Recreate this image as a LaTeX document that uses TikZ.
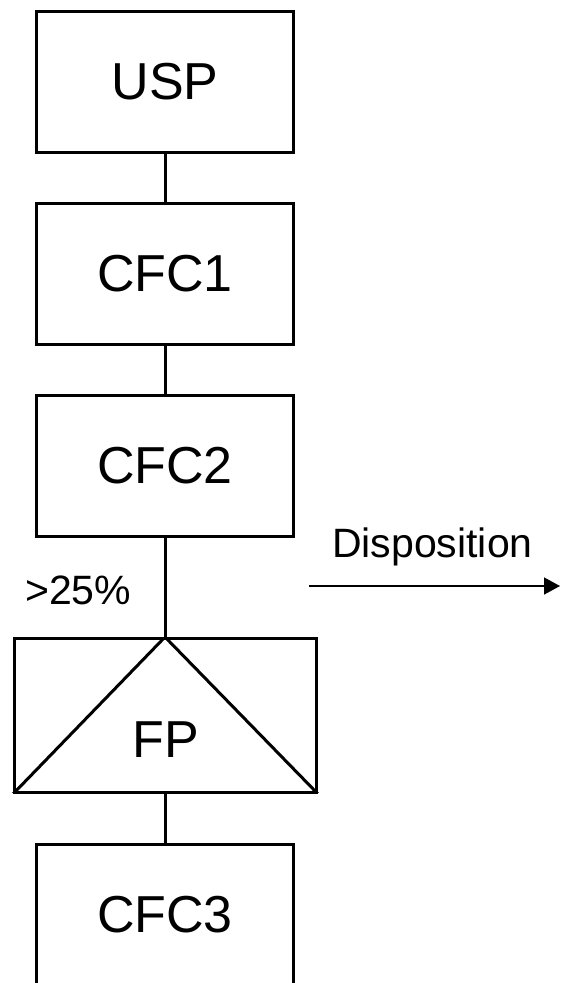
\documentclass[tikz,border=0pt]{standalone}
\usepackage{fontspec}
\setmainfont{Liberation Sans}
\usetikzlibrary{arrows.meta}
\begin{document}
\begin{tikzpicture}[x=1pt,y=-1pt,
  boxnode/.style={draw=black, line width=3pt, rectangle, minimum width=257pt, minimum height=141pt, inner sep=0pt, font=\fontsize{52}{60}\selectfont},
  link/.style={line width=3pt},
  smalllabel/.style={font=\fontsize{41}{48}\selectfont, inner sep=0pt}]
\useasboundingbox (0,0) rectangle (561,983);
\clip (0,0) rectangle (561,983);
\node[boxnode] (usp) at (165,81.5) {USP};
\node[boxnode] (cfc1) at (165,274) {CFC1};
\node[boxnode] (cfc2) at (165,465.5) {CFC2};
\node[boxnode, minimum width=302pt, minimum height=154pt] (fp) at (165.5,715.5) {};
\node[inner sep=0pt, font=\fontsize{52}{60}\selectfont] (fplabel) at (166,740) {FP};
\node[boxnode] (cfc3) at (165,914.5) {CFC3};
\draw[link] (usp.south) -- (cfc1.north);
\draw[link] (cfc1.south) -- (cfc2.north);
\draw[link] (cfc2.south) -- (fp.north -| cfc2.south);
\draw[link] (fp.south -| cfc3.north) -- (cfc3.north);
\begin{scope}
\clip ([shift={(-1.5pt,1.5pt)}]fp.south west) rectangle ([shift={(1.5pt,-1.5pt)}]fp.north east);
\draw[line width=3pt, line join=miter] (fp.south west) -- (fp.north -| cfc2.south) -- (fp.south east);
\end{scope}
\node[smalllabel, anchor=base west] (pct) at (25,604) {>25\%};
\node[smalllabel, anchor=base west] (disp) at (332,557) {Disposition};
\coordinate (arrA) at (309,586);
\coordinate (arrB) at (560,586);
\draw[line width=1.5pt, -{Triangle[length=16pt, width=17pt]}] (arrA) -- (arrB);
\end{tikzpicture}
\end{document}
